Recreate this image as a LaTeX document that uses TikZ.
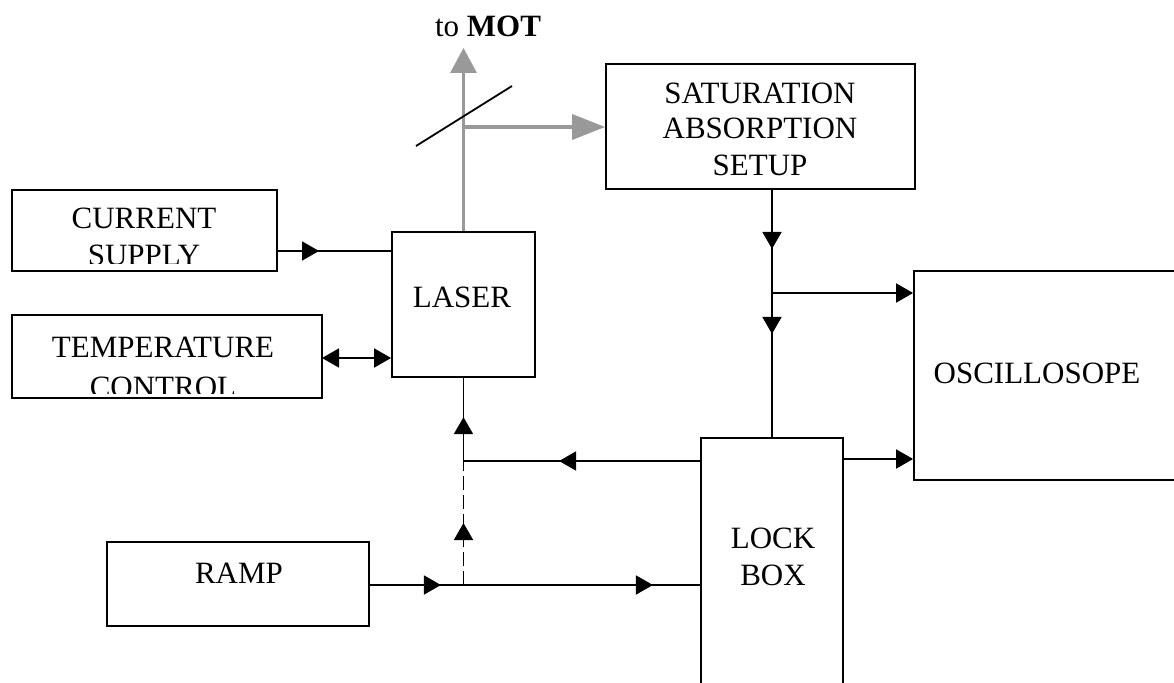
\documentclass[tikz,border=0pt]{standalone}
\usepackage{fontspec}
\setmainfont{Liberation Serif}
\usetikzlibrary{arrows.meta,decorations.markings}
\tikzset{
  tri/.tip={Triangle[length=17pt,width=19pt]},
  box/.style={draw, line width=1.8pt, inner sep=0pt, rectangle},
  conn/.style={line width=1.8pt},
  marks/.style={postaction={decorate}, decoration={markings,#1}},
  beam/.style={draw=black!40, line width=3.5pt},
  lbl/.style={anchor=base, inner sep=0pt, font=\fontsize{31}{37}\selectfont},
}
\begin{document}
\begin{tikzpicture}[x=1pt,y=-1pt]
\clip (0,0) rectangle (1174,682);
\fill[white] (0,0) rectangle (1174,682);

% boxes
\node[box, minimum width=265pt, minimum height=81pt] (cs) at (144.5,230.5) {};
\node[box, minimum width=310pt, minimum height=83pt] (tc) at (167,356.5) {};
\node[box, minimum width=143pt, minimum height=145pt] (laser) at (463.5,304.5) {};
\node[box, minimum width=309pt, minimum height=125pt] (sat) at (760.5,126.5) {};
\node[box, minimum width=262pt, minimum height=84pt] (ramp) at (238,584) {};
\node[box, minimum width=142pt, minimum height=262pt] (lock) at (772,569) {};
\node[box, minimum width=276pt, minimum height=209pt] (osc) at (1052,375.5) {};

% labels
\begin{scope}
\clip (12,190) rectangle (277,263);
\node[lbl] (csA) at (144,228) {CURRENT};
\node[lbl] (csB) at (144,265) {SUPPLY};
\end{scope}
\begin{scope}
\clip (12,315) rectangle (322,393);
\node[lbl] (tcA) at (163,357) {TEMPERATURE};
\node[lbl] (tcB) at (163,397) {CONTROL};
\end{scope}
\node[lbl] (laserL) at (462,307) {LASER};
\node[lbl] (satA) at (760,103) {SATURATION};
\node[lbl] (satB) at (760,139) {ABSORPTION};
\node[lbl] (satC) at (760,175) {SETUP};
\node[lbl] (rampL) at (239,583) {RAMP};
\node[lbl] (lockA) at (773,548) {LOCK};
\node[lbl] (lockB) at (773,585) {BOX};
\node[lbl] (oscL) at (1037,383) {OSCILLOSOPE};
\node[lbl] (mot) at (488,37) {to \textbf{MOT}};

% helper coordinates
\coordinate (csout) at (277,251);
\coordinate (tcout) at (322,358);
\coordinate (fb) at (463.5,461);
\coordinate (rj) at (463.5,585);
\coordinate (br) at (772,293);
\coordinate (lo) at (843,459);
\coordinate (motend) at (463.5,48);
\coordinate (bs) at (463.5,127);
\coordinate (bsA) at (416,146);
\coordinate (bsB) at (512,86);

% beam
\draw[beam, -{Triangle[length=25pt,width=26pt]}] (laser.north) -- (motend);
\draw[beam, -{Triangle[length=33pt,width=25pt]}] (bs) -- (sat.west |- bs);
\draw[line width=1.8pt] (bsA) -- (bsB);

% connectors
\draw[conn, marks={mark=at position 42pt with {\arrow{tri}}}] (csout) -- (csout -| laser.west);
\draw[conn, tri-tri] (tcout) -- (tcout -| laser.west);
\draw[conn, marks={mark=at position 141pt with {\arrow{tri}}, mark=at position 280.5pt with {\arrow{tri}}}]
  (lock.west |- fb) -- (fb) -- (laser.south);
\draw[conn, dash pattern=on 14pt off 5pt, marks={mark=at position 62pt with {\arrow{tri}}}] (rj) -- (fb);
\draw[conn, marks={mark=at position 71pt with {\arrow{tri}}, mark=at position 283pt with {\arrow{tri}}}]
  (ramp.east |- rj) -- (lock.west |- rj);
\draw[conn, marks={mark=at position 59pt with {\arrow{tri}}, mark=at position 144pt with {\arrow{tri}}}]
  (lock.north |- sat.south) -- (lock.north);
\draw[conn, -tri] (br) -- (osc.west |- br);
\draw[conn, -tri] (lo) -- (osc.west |- lo);
\end{tikzpicture}
\end{document}
